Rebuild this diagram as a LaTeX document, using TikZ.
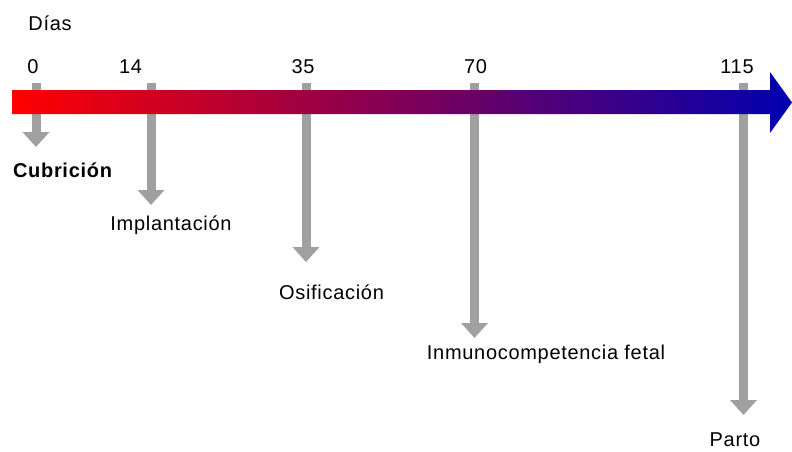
\documentclass[tikz,border=0pt]{standalone}
\usepackage{fontspec}
\setmainfont[LetterSpace=3.5]{Liberation Sans}
\usetikzlibrary{arrows.meta}
\definecolor{barred}{RGB}{255,0,0}
\definecolor{barblue}{RGB}{0,0,175}
\definecolor{stemgray}{RGB}{160,160,160}

\begin{document}
\begin{tikzpicture}[x=1pt,y=-1pt,
  stem/.style={draw=stemgray,line width=9pt,-{Triangle[width=26pt,length=15pt,fill=stemgray]}},
  lbl/.style={anchor=base,font=\fontsize{20}{24}\selectfont}]
\tikzstyle{every node}+=[inner sep=0pt]
\useasboundingbox (0,0) rectangle (792,451);
\coordinate (s0) at (36,83);
\coordinate (e0) at (36,147);
\coordinate (s14) at (151,83);
\coordinate (e14) at (151,205);
\coordinate (s35) at (306,83);
\coordinate (e35) at (306,262);
\coordinate (s70) at (474.5,83);
\coordinate (e70) at (474.5,338);
\coordinate (s115) at (743.5,83);
\coordinate (e115) at (743.5,415);
\draw [stem] (s0) -- (e0);
\draw [stem] (s14) -- (e14);
\draw [stem] (s35) -- (e35);
\draw [stem] (s70) -- (e70);
\draw [stem] (s115) -- (e115);
\shade [left color=barred,right color=barblue] (12,90) -- (770,90) -- (770,72) -- (792,102.5) -- (770,133) -- (770,114) -- (12,114) -- cycle;
\node [lbl] (dias) at (50,30) {Días};
\node [lbl] (n0) at (33,73) {0};
\node [lbl] (n14) at (130.5,73) {14};
\node [lbl] (n35) at (303,73) {35};
\node [lbl] (n70) at (475.5,73) {70};
\node [lbl] (n115) at (737,73) {115};
\node [lbl,font=\fontsize{20}{24}\selectfont\bfseries] (cubricion) at (62.5,177) {Cubrición};
\node [lbl] (implantacion) at (171,230) {Implantación};
\node [lbl] (osificacion) at (331.5,299) {Osificación};
\node [lbl] (inmuno) at (546,359) {Inmunocompetencia fetal};
\node [lbl] (parto) at (735,446) {Parto};
\end{tikzpicture}
\end{document}
